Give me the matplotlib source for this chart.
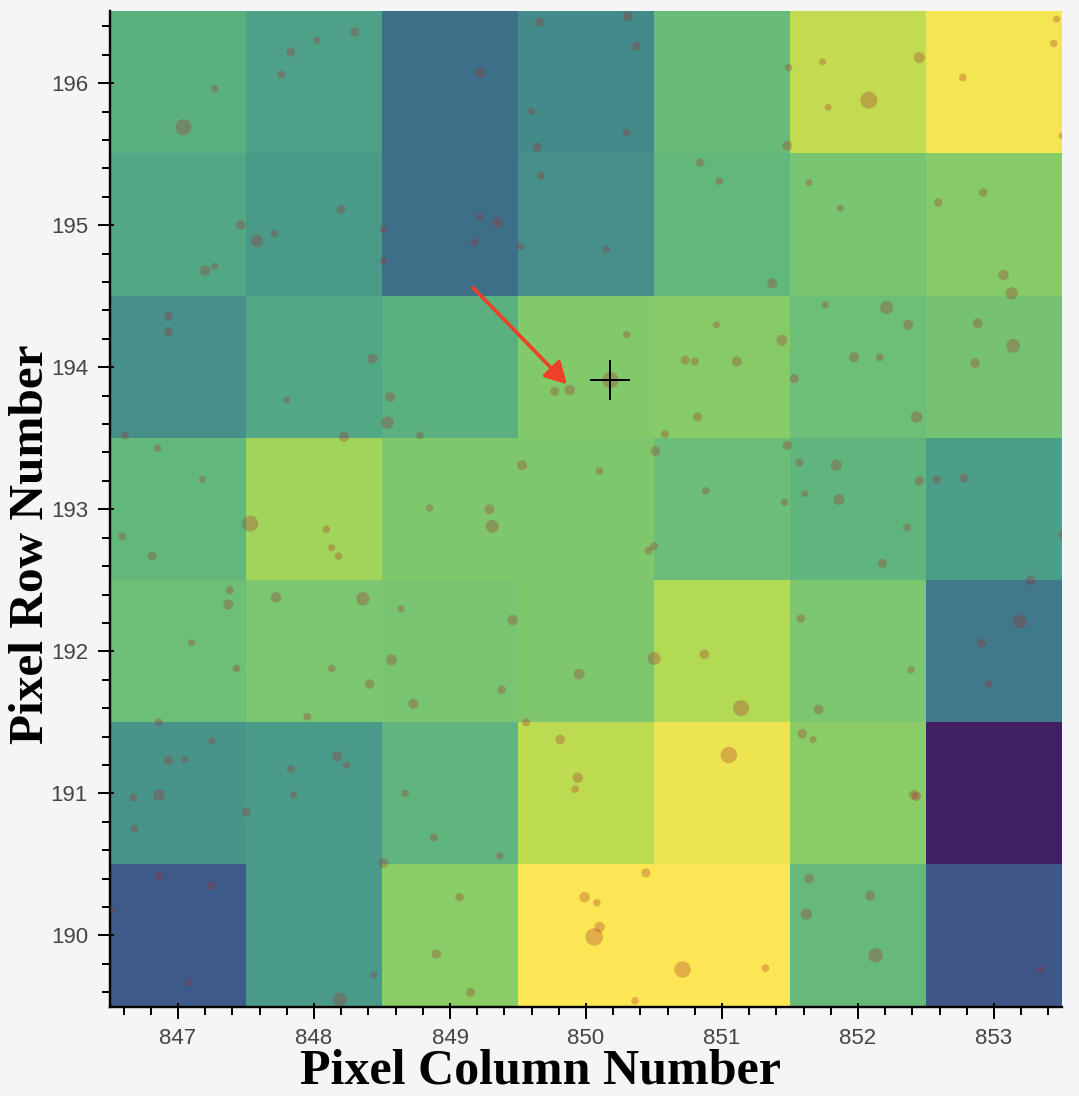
import numpy as np
import matplotlib
matplotlib.use('Agg')
import matplotlib.pyplot as plt
from matplotlib.colors import LinearSegmentedColormap
from matplotlib.ticker import MultipleLocator

# pixel fluxes, top row first (row 196 down to row 190), columns 847..853
columns = [847, 848, 849, 850, 851, 852, 853]
rows = [190, 191, 192, 193, 194, 195, 196]
flux_196 = [54, 46, 24, 34, 63, 91, 97]
flux_195 = [50, 42, 24, 38, 59, 70, 78]
flux_194 = [38, 50, 54, 76, 78, 65, 69]
flux_193 = [59, 84, 74, 74, 64, 58, 44]
flux_192 = [65, 72, 70, 74, 87, 72, 28]
flux_191 = [40, 42, 58, 89, 95, 80, 0]
flux_190 = [15, 42, 80, 100, 100, 61, 14]

# background stars: column, row, dot diameter
star_col = [847.04, 847.27, 847.83, 847.76, 848.02, 848.30, 849.22, 849.60, 849.66, 849.64,
            849.67, 850.31, 850.37, 850.30, 847.46, 847.58, 847.71, 848.20, 848.51, 848.51,
            847.20, 847.27, 849.22, 849.35, 849.18, 849.52, 850.15, 850.84, 850.98, 851.49,
            851.48, 851.74, 851.78, 852.08, 852.45, 852.77, 853.46, 853.44, 853.50, 851.64,
            851.87, 852.59, 852.92, 853.07, 853.13, 851.37, 851.76, 852.21, 852.37, 852.88,
            853.14, 852.86, 851.97, 852.16, 851.53, 852.43, 850.96, 850.30, 851.44, 850.73,
            850.80, 851.11, 850.18, 849.88, 849.77, 850.82, 850.58, 850.51, 850.10, 851.48,
            851.57, 851.84, 851.61, 850.88, 851.46, 851.86, 852.45, 852.58, 852.78, 846.93,
            846.93, 848.43, 847.80, 848.56, 848.54, 846.61, 848.22, 848.78, 846.85, 847.18,
            849.53, 848.85, 849.29, 847.53, 846.59, 846.81, 848.09, 848.13, 848.18, 849.31,
            847.38, 847.37, 847.72, 848.36, 848.64, 849.46, 847.10, 847.43, 848.13, 848.57,
            848.41, 849.38, 848.73, 849.95, 847.95, 846.86, 849.56, 847.25, 847.05, 846.93,
            848.17, 848.24, 847.83, 846.86, 846.67, 847.85, 847.50, 846.68, 848.67, 848.88,
            849.37, 848.51, 849.81, 849.94, 849.92, 846.86, 847.25, 846.51, 847.08, 848.19,
            848.44, 849.07, 848.90, 849.15, 850.46, 850.50, 852.36, 852.18, 853.50, 853.27,
            853.19, 852.91, 852.96, 851.58, 852.39, 851.71, 850.87, 850.50, 851.14, 851.59,
            851.67, 851.05, 852.41, 852.43, 851.64, 852.09, 851.62, 852.13, 853.34, 850.44,
            849.99, 850.08, 850.10, 850.06, 850.71, 851.32, 850.36]
star_row = [195.69, 195.96, 196.22, 196.06, 196.30, 196.36, 196.07, 195.80, 196.43, 195.55,
            195.35, 196.47, 196.26, 195.65, 195.00, 194.89, 194.94, 195.11, 194.97, 194.75,
            194.68, 194.71, 195.06, 195.02, 194.88, 194.85, 194.83, 195.44, 195.31, 196.11,
            195.56, 196.15, 195.83, 195.88, 196.18, 196.04, 196.45, 196.28, 195.63, 195.30,
            195.12, 195.16, 195.23, 194.65, 194.52, 194.59, 194.44, 194.42, 194.30, 194.31,
            194.15, 194.03, 194.07, 194.07, 193.92, 193.65, 194.30, 194.23, 194.19, 194.05,
            194.04, 194.04, 193.91, 193.84, 193.83, 193.65, 193.53, 193.41, 193.27, 193.45,
            193.33, 193.31, 193.11, 193.13, 193.05, 193.07, 193.20, 193.21, 193.22, 194.36,
            194.25, 194.06, 193.77, 193.79, 193.61, 193.52, 193.51, 193.52, 193.43, 193.21,
            193.31, 193.01, 193.00, 192.90, 192.81, 192.67, 192.86, 192.73, 192.67, 192.88,
            192.43, 192.33, 192.38, 192.37, 192.30, 192.22, 192.06, 191.88, 191.88, 191.94,
            191.77, 191.73, 191.63, 191.84, 191.54, 191.50, 191.50, 191.37, 191.24, 191.23,
            191.26, 191.20, 191.17, 190.99, 190.97, 190.99, 190.87, 190.75, 191.00, 190.69,
            190.56, 190.51, 191.38, 191.11, 191.03, 190.42, 190.35, 190.18, 189.67, 189.55,
            189.72, 190.27, 189.87, 189.60, 192.71, 192.74, 192.87, 192.62, 192.82, 192.50,
            192.21, 192.06, 191.77, 192.23, 191.87, 191.59, 191.98, 191.95, 191.60, 191.42,
            191.38, 191.27, 190.99, 190.98, 190.40, 190.28, 190.15, 189.86, 189.76, 190.44,
            190.27, 190.23, 190.06, 189.99, 189.76, 189.77, 189.54]
star_size = [16, 7.5, 9, 8, 7, 9, 10, 7, 9, 9,
             8, 10, 9, 8, 9.5, 12.5, 7.5, 8.5, 7.5, 7.5,
             10.5, 7, 7, 10.5, 8, 7.5, 7.5, 8.5, 7.5, 7.5,
             10, 7, 7, 17, 11, 7.5, 7, 7.5, 7, 7,
             7, 8.5, 8.5, 10.5, 12.5, 10, 7, 13, 10, 10,
             14, 10, 10, 8, 9, 11.5, 7, 7.5, 11, 9,
             8, 10, 16.5, 10.5, 9, 9, 8, 9.5, 7.5, 9,
             8, 11, 7, 7.5, 7.5, 11, 9.5, 8.5, 9, 9,
             9, 10, 7, 10, 12.5, 8, 10, 7.5, 7.5, 7,
             10, 7.5, 10, 16, 8, 9, 7.5, 7, 7.5, 13,
             8, 10, 10.5, 13.5, 7, 10.5, 7, 7.5, 7.5, 11,
             9.5, 8.5, 10, 11, 8, 8, 8, 7, 7, 9,
             10, 7, 8, 12, 8, 7.5, 9, 8, 7.5, 8,
             7.5, 10, 9.5, 10.5, 7.5, 8.5, 8.5, 7, 7.5, 14,
             7, 8.5, 9.5, 9, 8, 8, 8, 9, 7, 9.5,
             13.5, 9, 7.5, 8.5, 7.5, 10, 9.5, 13, 16, 9.5,
             7, 16.5, 9.5, 9.5, 9.5, 10, 11.5, 14.5, 7.5, 9,
             10.5, 7.5, 10.5, 17.5, 16.5, 7.5, 7.5]

target_col = 850.18
target_row = 193.91
arrow_start = (849.17, 194.56)
arrow_tip = (849.86, 193.88)

# colours as they come out in the screenshot
cmap_stops = [(0, '#401f62'), (14, '#3f5888'), (24, '#3e708a'), (28, '#407a8b'), (34, '#438a8b'),
              (38, '#47908a'), (42, '#4a9a8a'), (46, '#4fa288'), (50, '#52a885'), (54, '#5ab180'),
              (58, '#60b67d'), (62, '#68bb79'), (66, '#6fc075'), (70, '#78c472'), (74, '#7fc86d'),
              (78, '#86cb69'), (80, '#8acd67'), (84, '#a1d45c'), (87, '#b2da55'), (89, '#bcdb50'),
              (91, '#c4dc51'), (95, '#ece551'), (97, '#f4e752'), (100, '#fce653')]
cmap = LinearSegmentedColormap.from_list('tpf', [(v / 100, c) for v, c in cmap_stops], N=512)

W, H = 1079, 1096
px = 72 / 100  # one pixel in points

fig = plt.figure(figsize=(W / 100, H / 100), dpi=100, facecolor='#f5f5f5')
ax = fig.add_axes([110 / W, (H - 1006.5) / H, 952 / W, 995.8 / H])

flux = np.array([flux_190, flux_191, flux_192, flux_193, flux_194, flux_195, flux_196])
ax.imshow(flux, origin='lower', cmap=cmap, vmin=0, vmax=100, aspect='auto', interpolation='nearest',
          extent=[columns[0] - 0.5, columns[-1] + 0.5, rows[0] - 0.5, rows[-1] + 0.5])

ax.scatter(star_col, star_row, s=(np.array(star_size) * px) ** 2, c='#a52a2a', alpha=0.3, linewidths=0, zorder=3)

ax.plot(target_col, target_row, '+', color='k', ms=40 * px, mew=2 * px, zorder=4)
ax.annotate('', xy=arrow_tip, xytext=arrow_start, zorder=5,
            arrowprops=dict(arrowstyle='-|>,head_length=1.3,head_width=0.72', mutation_scale=10, color='#ee4027',
                            lw=3.6 * px, shrinkA=0, shrinkB=0))

ax.set_xlim(846.5, 853.5)
ax.set_ylim(189.5, 196.51)
ax.set_facecolor('#f5f5f5')

ax.xaxis.set_major_locator(MultipleLocator(1))
ax.yaxis.set_major_locator(MultipleLocator(1))
ax.xaxis.set_minor_locator(MultipleLocator(0.2))
ax.yaxis.set_minor_locator(MultipleLocator(0.2))
ax.ticklabel_format(useOffset=False)
ax.tick_params(which='major', direction='out', length=12 * px, width=2 * px, pad=10 * px,
               labelsize=16, labelcolor='#444444')
ax.tick_params(which='minor', direction='out', length=8 * px, width=2 * px)
for lab in ax.get_xticklabels() + ax.get_yticklabels():
    lab.set_family('Liberation Sans')

for side in ['top', 'right']:
    ax.spines[side].set_visible(False)
for side in ['left', 'bottom']:
    ax.spines[side].set_linewidth(2.4 * px)

# major ticks also poke 4px into the plot
sx = ax.secondary_xaxis('bottom')
sx.set_xticks(columns)
sx.tick_params(direction='in', length=4 * px, width=2 * px, labelbottom=False)
sx.spines['bottom'].set_visible(False)
sy = ax.secondary_yaxis('left')
sy.set_yticks(rows)
sy.tick_params(direction='in', length=4 * px, width=2 * px, labelleft=False)
sy.spines['left'].set_visible(False)

fig.text(540 / W, 1 - 1072 / H, 'Pixel Column Number', ha='center', va='center', fontsize=36,
         family='Liberation Serif', weight='bold', color='k')
fig.text(31 / W, 1 - 544 / H, 'Pixel Row Number', ha='center', va='center', rotation=90, fontsize=35.5,
         family='Liberation Serif', weight='bold', color='k')

fig.savefig('out.png', dpi=100, facecolor=fig.get_facecolor())
